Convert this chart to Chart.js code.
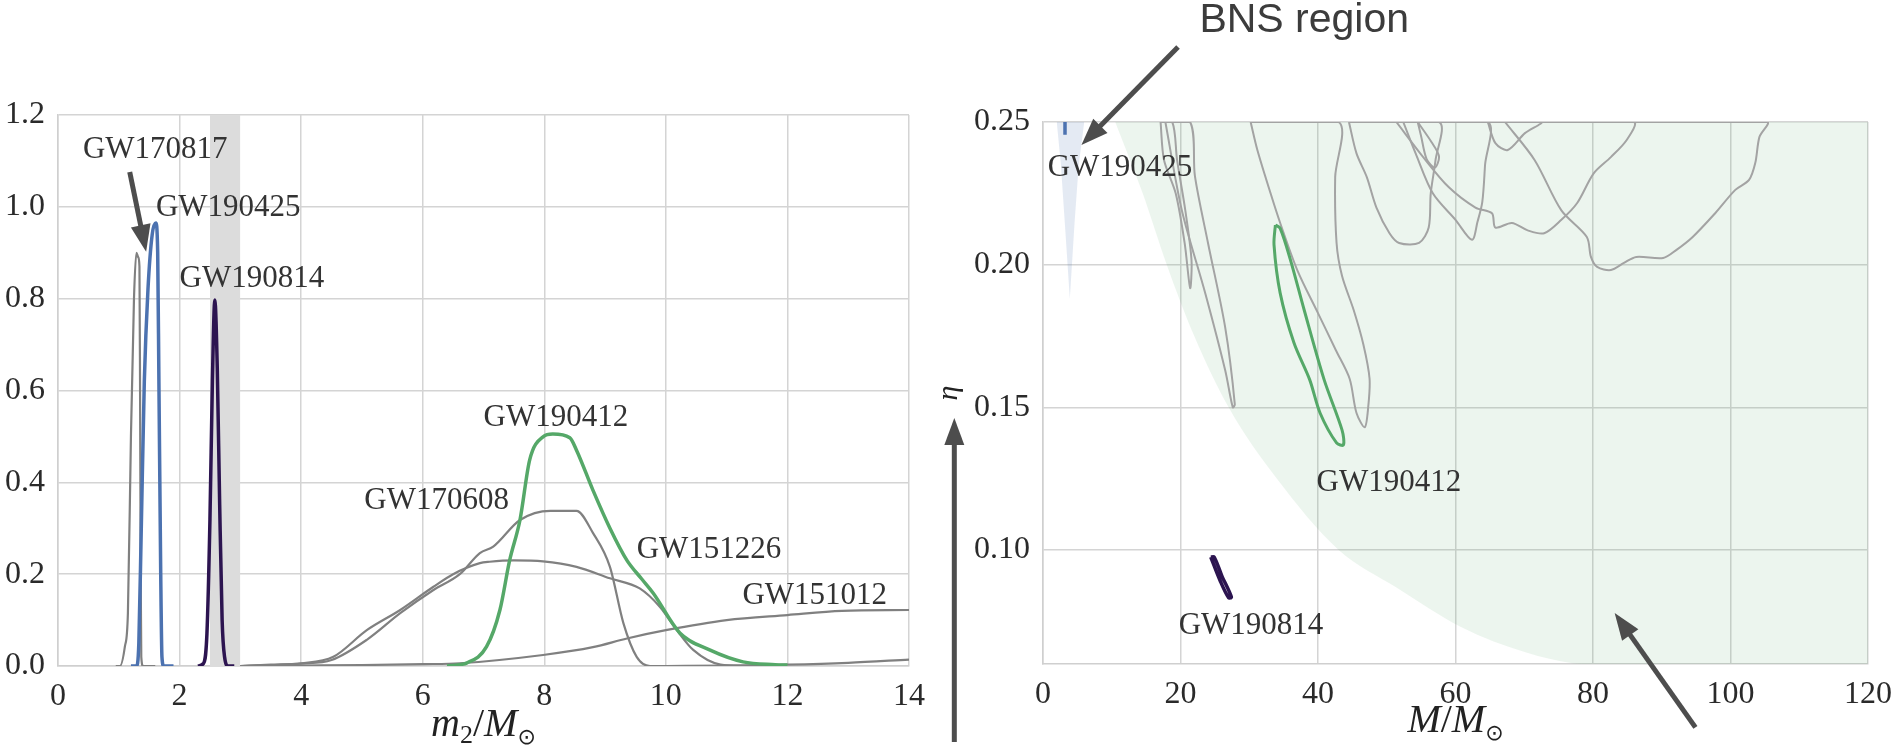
<!DOCTYPE html>
<html>
<head>
<meta charset="utf-8">
<script src="https://cdn.jsdelivr.net/npm/chart.js@4.4.0/dist/chart.umd.min.js"></script>
<style>
  html, body { margin: 0; padding: 0; background: #fff; overflow: hidden; }
  #left { position: absolute; left: 0; top: 0; width: 940px; height: 745px; }
  #right { position: absolute; left: 940px; top: 0; width: 963px; height: 745px; }
</style>
</head>
<body>
<div id="left"><canvas id="m2Chart"></canvas></div>
<div id="right"><canvas id="etaChart"></canvas></div>
<script>
// ---- tick values ----
var m2Ticks = [0, 2, 4, 6, 8, 10, 12, 14];
var densityTicks = [0, 0.2, 0.4, 0.6, 0.8, 1.0, 1.2];
var massTicks = [0, 20, 40, 60, 80, 100, 120];
var etaTicks = [0.10, 0.15, 0.20, 0.25];

// ---- left panel: m2 posteriors ----
var massGapX = [2.5, 3.0];
var massGapY = [1.2, 1.2];

var gw170817X = [0.95, 1.02, 1.1, 1.15, 1.2, 1.25, 1.29, 1.32, 1.34, 1.35, 1.36, 1.37, 1.4, 1.6];
var gw170817Y = [0, 0.0, 0.042, 0.115, 0.5, 0.8, 0.9, 0.89, 0.87, 0.6, 0.2, 0.02, 0, 0];

var gw190425X = [1.2, 1.29, 1.33, 1.37, 1.42, 1.48, 1.55, 1.61, 1.64, 1.66, 1.69, 1.71, 1.74, 1.9];
var gw190425Y = [0, 0, 0.05, 0.3, 0.62, 0.82, 0.94, 0.965, 0.9, 0.62, 0.2, 0.02, 0, 0];

var gw190814X = [2.3, 2.39, 2.45, 2.5, 2.54, 2.58, 2.62, 2.66, 2.7, 2.74, 2.8, 2.9];
var gw190814Y = [0, 0.005, 0.07, 0.32, 0.62, 0.797, 0.65, 0.35, 0.1, 0.02, 0, 0];

var gw170608X = [3.0, 3.5, 4.0, 4.5, 5.08, 5.63, 6.17, 6.61, 6.94, 7.16, 7.6, 8.1, 8.53, 8.8, 9.08, 9.3, 9.52, 9.74, 10.2];
var gw170608Y = [0, 0.002, 0.005, 0.013, 0.057, 0.115, 0.165, 0.2, 0.246, 0.26, 0.318, 0.338, 0.338, 0.29, 0.216, 0.094, 0.02, 0, 0];

var gw151226X = [3.0, 3.5, 4.0, 4.53, 5.08, 5.63, 6.17, 6.5, 6.94, 7.1, 7.5, 7.98, 8.53, 9.08, 9.57, 9.9, 10.18, 10.45, 10.9, 11.3];
var gw151226Y = [0, 0.003, 0.006, 0.02, 0.078, 0.122, 0.172, 0.2, 0.224, 0.227, 0.23, 0.228, 0.216, 0.191, 0.169, 0.129, 0.078, 0.035, 0.003, 0];

var gw190412X = [6.4, 6.73, 7.05, 7.27, 7.43, 7.6, 7.76, 7.98, 8.14, 8.42, 8.53, 8.8, 9.08, 9.36, 9.6, 9.79, 10.23, 10.72, 11.27, 11.8, 12.0];
var gw190412Y = [0, 0.007, 0.042, 0.122, 0.23, 0.318, 0.449, 0.499, 0.505, 0.497, 0.47, 0.383, 0.3, 0.23, 0.19, 0.159, 0.072, 0.035, 0.009, 0.003, 0.002];

var gw151012X = [3.0, 4.0, 5.0, 6.0, 6.61, 7.98, 8.8, 9.36, 10.0, 11.0, 12.0, 12.9, 14.0];
var gw151012Y = [0, 0.001, 0.002, 0.004, 0.006, 0.024, 0.041, 0.06, 0.078, 0.1, 0.111, 0.12, 0.122];

var tailX = [10, 11, 12, 13, 14];
var tailY = [0, 0.001, 0.003, 0.007, 0.014];

// ---- right panel: total mass vs eta ----
var regionM = [10.5, 14.5, 18, 22, 27, 34, 43, 51.3, 60.8, 70.3, 77, 80, 120];
var regionEta = [0.25, 0.225, 0.2, 0.175, 0.15, 0.125, 0.1, 0.087, 0.073, 0.064, 0.0603, 0.06, 0.06];

var bnsM = [2.0, 2.6, 3.3, 3.9, 4.6, 5.2, 6.0];
var bnsEta = [0.25, 0.235, 0.21, 0.188, 0.215, 0.235, 0.25];

var gw190425M = [3.2, 3.2];
var gw190425Eta = [0.25, 0.2455];

var gw190412M = [33.8, 33.6, 34.5, 36.5, 38.8, 40.3, 42.7, 43.7, 43.5, 40.9, 38.0, 36.0, 34.5, 33.8];
var gw190412Eta = [0.2139, 0.207, 0.19, 0.1726, 0.1596, 0.148, 0.1375, 0.1368, 0.142, 0.1596, 0.184, 0.2016, 0.2127, 0.2139];

var gw190814M = [24.4, 24.9, 26.0, 27.4, 27.0, 25.8, 24.4];
var gw190814Eta = [0.0975, 0.0975, 0.091, 0.0835, 0.0832, 0.089, 0.0975];

var contourAM = [17.1, 17.6, 19.3, 20.6, 21.4, 21.6, 20.7, 19.5, 18.8, 17.1];
var contourAEta = [0.25, 0.2367, 0.225, 0.2076, 0.1918, 0.2016, 0.219, 0.2367, 0.25, 0.25];
var contourBM = [17.8, 20.2, 23.6, 26.5, 27.6, 27.9, 26.5, 24.0, 22.1, 21.4, 17.8];
var contourBEta = [0.25, 0.219, 0.19, 0.163, 0.15, 0.151, 0.178, 0.2076, 0.231, 0.25, 0.25];
var contourCM = [30.2, 31.2, 33.1, 34.5, 37.0, 40.0, 42.6, 44.6, 45.6, 46.8, 47.3, 47.5, 46.6, 45.2, 43.5, 42.7, 42.5, 43.0, 30.2];
var contourCEta = [0.25, 0.24, 0.225, 0.2146, 0.198, 0.183, 0.17, 0.16, 0.148, 0.143, 0.15, 0.16, 0.172, 0.184, 0.196, 0.2076, 0.2307, 0.25, 0.25];
var contourDM = [44.5, 45.6, 47.1, 48.5, 50.4, 51.8, 54.7, 56.1, 56.4, 57.1, 57.6, 44.5];
var contourDEta = [0.25, 0.239, 0.2307, 0.22, 0.211, 0.2076, 0.2076, 0.213, 0.225, 0.2367, 0.25, 0.25];
var contourEM = [51.4, 55.3, 59.0, 62.9, 65.3, 65.8, 68.2, 70.5, 72.9, 75.4, 77.7, 80.1, 82.6, 84.9, 85.9, 51.4];
var contourEEta = [0.25, 0.2377, 0.2272, 0.22, 0.218, 0.213, 0.2146, 0.212, 0.211, 0.2157, 0.2216, 0.232, 0.2377, 0.2437, 0.25, 0.25];
var contourFM = [67.2, 71.5, 75.4, 79.1, 79.7, 80.6, 82.6, 84.5, 86.3, 90.2, 92.1, 94.5, 97.8, 100.7, 102.7, 103.6, 104.2, 105.3, 67.2];
var contourFEta = [0.25, 0.2367, 0.219, 0.2097, 0.2027, 0.1992, 0.1981, 0.2006, 0.2027, 0.2023, 0.2051, 0.2097, 0.2181, 0.2262, 0.2297, 0.2356, 0.2447, 0.25, 0.25];
var contourGM = [52.4, 54.2, 56.7, 60.0, 62.4, 63.2, 63.9, 64.3, 64.7, 52.4];
var contourGEta = [0.25, 0.239, 0.225, 0.2157, 0.2087, 0.215, 0.222, 0.235, 0.25, 0.25];
var contourHM = [64.7, 65.8, 67.6, 70.1, 72.5, 64.7];
var contourHEta = [0.25, 0.2426, 0.2402, 0.2461, 0.25, 0.25];
var contourIM = [54.5, 56.5, 57.6, 57.0, 55.8, 55.0, 54.5];
var contourIEta = [0.25, 0.243, 0.238, 0.234, 0.237, 0.245, 0.25];

// ---- annotations (data coordinates) ----
var leftNotes = [
  ["GW170817", 1.60, 1.124], ["GW190425", 2.80, 0.997], ["GW190814", 3.19, 0.843],
  ["GW170608", 6.23, 0.359], ["GW190412", 8.19, 0.540], ["GW151226", 10.71, 0.253],
  ["GW151012", 12.45, 0.152]
];
var leftArrows = [[1.18, 1.076, 1.45, 0.902]];
var rightNotes = [["GW190425", 11.2, 0.2339], ["GW190412", 50.3, 0.1235], ["GW190814", 30.25, 0.0733]];
var rightArrows = [[19.64, 0.2763, 5.59, 0.2419], [-12.9, 0.0327, -12.9, 0.1462], [94.9, 0.0378, 83.15, 0.0779]];

var SERIF = "'Liberation Serif', 'DejaVu Serif', serif";
var GRAY = "#808080";
var CONTOUR = "#a3a3a3";

Chart.defaults.font.family = SERIF;
Chart.defaults.color = "#2a2a2a";

function pts(xs, ys) {
  return xs.map(function (x, i) { return { x: x, y: ys[i] }; });
}

function curve(xs, ys, color, width, extra) {
  var ds = {
    data: pts(xs, ys),
    borderColor: color,
    borderWidth: width,
    pointRadius: 0,
    fill: false
  };
  for (var k in extra) ds[k] = extra[k];
  return ds;
}

function drawArrow(ctx, x1, y1, x2, y2) {
  var a = Math.atan2(y2 - y1, x2 - x1), head = 27, half = 10;
  var c = Math.cos(a), s = Math.sin(a);
  ctx.save();
  ctx.strokeStyle = "#4d4d4d";
  ctx.fillStyle = "#4d4d4d";
  ctx.lineWidth = 5;
  ctx.beginPath();
  ctx.moveTo(x1, y1);
  ctx.lineTo(x2 - head * 0.8 * c, y2 - head * 0.8 * s);
  ctx.stroke();
  ctx.beginPath();
  ctx.moveTo(x2, y2);
  ctx.lineTo(x2 - head * c + half * s, y2 - head * s - half * c);
  ctx.lineTo(x2 - head * c - half * s, y2 - head * s + half * c);
  ctx.closePath();
  ctx.fill();
  ctx.restore();
}

function drawRich(ctx, parts, cx, baseY) {
  var total = 0;
  parts.forEach(function (p) { ctx.font = p.font; p.w = ctx.measureText(p.t).width; total += p.w; });
  var x = cx - total / 2;
  ctx.textAlign = "left";
  ctx.textBaseline = "alphabetic";
  parts.forEach(function (p) { ctx.font = p.font; ctx.fillText(p.t, x, baseY + p.dy); x += p.w; });
}

function notesPlugin(notes, arrows, title, titleBase, extra) {
  return {
    id: "notes",
    afterDraw: function (chart) {
      var ctx = chart.ctx, xs = chart.scales.x, ys = chart.scales.y;
      ctx.save();
      ctx.fillStyle = "#333";
      ctx.font = "31px " + SERIF;
      ctx.textAlign = "center";
      ctx.textBaseline = "middle";
      notes.forEach(function (n) {
        ctx.fillText(n[0], xs.getPixelForValue(n[1]), ys.getPixelForValue(n[2]));
      });
      arrows.forEach(function (a) {
        drawArrow(ctx, xs.getPixelForValue(a[0]), ys.getPixelForValue(a[1]),
          xs.getPixelForValue(a[2]), ys.getPixelForValue(a[3]));
      });
      ctx.fillStyle = "#222";
      drawRich(ctx, title, (chart.chartArea.left + chart.chartArea.right) / 2, titleBase);
      if (extra) extra(chart, ctx, xs, ys);
      ctx.restore();
    }
  };
}

var tickFont = { family: SERIF, size: 32, style: "normal", weight: "normal" };

function axisX(ticks, min, max, height) {
  return {
    type: "linear", min: min, max: max,
    afterBuildTicks: function (s) { s.ticks = ticks.map(function (v) { return { value: v }; }); },
    afterFit: function (s) { s.height = height; },
    grid: { color: "#d4d4d4", lineWidth: 1.5, drawTicks: false },
    border: { color: "#cfcfcf", width: 1.5 },
    ticks: { color: "#2a2a2a", font: tickFont, padding: 11, maxRotation: 0,
      callback: function (v) { return String(v); } }
  };
}

function axisY(ticks, min, max, width, digits) {
  return {
    type: "linear", min: min, max: max,
    afterBuildTicks: function (s) { s.ticks = ticks.map(function (v) { return { value: v }; }); },
    afterFit: function (s) { s.width = width; },
    grid: { color: "#d4d4d4", lineWidth: 1.5, drawTicks: false },
    border: { color: "#cfcfcf", width: 1.5 },
    ticks: { color: "#2a2a2a", font: tickFont, padding: 13,
      callback: function (v) { return v.toFixed(digits); } }
  };
}

var italic = "italic 40px " + SERIF;
var plain = "40px " + SERIF;
var sub = "26px " + SERIF;
var sunSub = "22px 'DejaVu Sans'";

new Chart(document.getElementById("m2Chart"), {
  type: "line",
  data: {
    datasets: [
      curve(gw190814X, gw190814Y, "#2c1450", 3.5, { cubicInterpolationMode: "monotone" }),
      curve(gw190425X, gw190425Y, "#4c72b0", 3.5, { cubicInterpolationMode: "monotone" }),
      curve(gw190412X, gw190412Y, "#55a868", 3.5, { cubicInterpolationMode: "monotone" }),
      curve(gw170817X, gw170817Y, GRAY, 2.2, { cubicInterpolationMode: "monotone" }),
      curve(gw170608X, gw170608Y, GRAY, 2.2, { cubicInterpolationMode: "monotone" }),
      curve(gw151226X, gw151226Y, GRAY, 2.2, { cubicInterpolationMode: "monotone" }),
      curve(gw151012X, gw151012Y, GRAY, 2.2, { cubicInterpolationMode: "monotone" }),
      curve(tailX, tailY, GRAY, 2.2, { cubicInterpolationMode: "monotone" }),
      curve(massGapX, massGapY, "rgba(0,0,0,0)", 0, { fill: "origin", backgroundColor: "#dcdcdc" })
    ]
  },
  options: {
    animation: false,
    responsive: true,
    maintainAspectRatio: false,
    layout: { padding: { left: 0, right: 31, top: 115, bottom: 0 } },
    plugins: { legend: { display: false }, tooltip: { enabled: false } },
    scales: {
      x: axisX(m2Ticks, 0, 14, 79),
      y: axisY(densityTicks, 0, 1.2, 58, 1)
    }
  },
  plugins: [notesPlugin(leftNotes, leftArrows, [
    { t: "m", font: italic, dy: 0 }, { t: "2", font: sub, dy: 7 },
    { t: "/", font: plain, dy: 0 }, { t: "M", font: italic, dy: 0 }, { t: "⊙", font: sunSub, dy: 8 }
  ], 736)]
});

new Chart(document.getElementById("etaChart"), {
  type: "line",
  data: {
    datasets: [
      curve(gw190425M, gw190425Eta, "#4c72b0", 3.5, {}),
      curve(gw190814M, gw190814Eta, "#2c1450", 3.5, { tension: 0.3 }),
      curve(gw190412M, gw190412Eta, "#55a868", 3, { tension: 0.3 }),
      curve(contourAM, contourAEta, CONTOUR, 2, { tension: 0.3 }),
      curve(contourBM, contourBEta, CONTOUR, 2, { tension: 0.3 }),
      curve(contourCM, contourCEta, CONTOUR, 2, { tension: 0.3 }),
      curve(contourDM, contourDEta, CONTOUR, 2, { tension: 0.3 }),
      curve(contourEM, contourEEta, CONTOUR, 2, { tension: 0.3 }),
      curve(contourFM, contourFEta, CONTOUR, 2, { tension: 0.3 }),
      curve(contourGM, contourGEta, CONTOUR, 2, { tension: 0.3 }),
      curve(contourHM, contourHEta, CONTOUR, 2, { tension: 0.3 }),
      curve(contourIM, contourIEta, CONTOUR, 2, { tension: 0.3 }),
      curve(bnsM, bnsEta, "rgba(0,0,0,0)", 0, { fill: "end", backgroundColor: "rgba(76,114,176,0.15)" }),
      curve(regionM, regionEta, "rgba(0,0,0,0)", 0, { fill: "end", cubicInterpolationMode: "monotone",
        backgroundColor: "rgba(85,168,104,0.115)" })
    ]
  },
  options: {
    animation: false,
    responsive: true,
    maintainAspectRatio: false,
    layout: { padding: { left: 0, right: 23, top: 122, bottom: 0 } },
    plugins: { legend: { display: false }, tooltip: { enabled: false } },
    scales: {
      x: axisX(massTicks, 0, 120, 81),
      y: (function () {
        var y = axisY(etaTicks, 0.06, 0.25, 103, 2);
        y.title = { display: true, text: "η", color: "#222", padding: 0,
          font: { family: SERIF, size: 30, style: "italic", lineHeight: 0.6 } };
        return y;
      })()
    }
  },
  plugins: [notesPlugin(rightNotes, rightArrows, [
    { t: "M", font: italic, dy: 0 }, { t: "/", font: plain, dy: 0 },
    { t: "M", font: italic, dy: 0 }, { t: "⊙", font: sunSub, dy: 8 }
  ], 732, function (chart, ctx, xs, ys) {
    ctx.fillStyle = "#3c3c3c";
    ctx.font = "41px 'Liberation Sans', Arial, sans-serif";
    ctx.textAlign = "center";
    ctx.textBaseline = "middle";
    ctx.fillText("BNS region", xs.getPixelForValue(38.0), ys.getPixelForValue(0.2854));
  })]
});
</script>
</body>
</html>
